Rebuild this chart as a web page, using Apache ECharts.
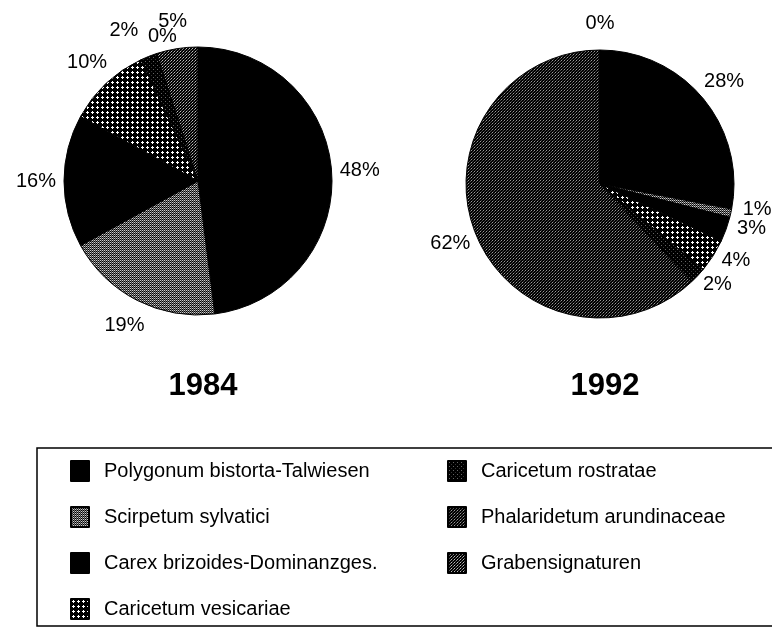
<!DOCTYPE html>
<html>
<head>
<meta charset="utf-8">
<script src="https://cdn.jsdelivr.net/npm/echarts@6/dist/echarts.min.js"></script>
<style>
  html, body { margin: 0; padding: 0; background: #fff; }
  #chart { width: 772px; height: 628px; }
</style>
</head>
<body>
<div id="chart"></div>
<script>
// ---- data ----
const categories = [
  'Polygonum bistorta-Talwiesen',
  'Scirpetum sylvatici',
  'Carex brizoides-Dominanzges.',
  'Caricetum vesicariae',
  'Caricetum rostratae',
  'Phalaridetum arundinaceae',
  'Grabensignaturen'
];
const years = ['1984', '1992'];
const values1984 = [48, 19, 16, 10, 2, 0, 5];
const values1992 = [28, 1, 3, 4, 2, 62, 0];

// ---- patterns (styles) ----
function makePattern(w, h, bg, dots) {
  const c = document.createElement('canvas');
  c.width = w; c.height = h;
  const ctx = c.getContext('2d');
  ctx.fillStyle = bg; ctx.fillRect(0, 0, w, h);
  dots.forEach(function (d) { ctx.fillStyle = d[2]; ctx.fillRect(d[0], d[1], 1, 1); });
  return { image: c, repeat: 'repeat' };
}
const plusDots = [];
[[2,1],[1,2],[2,2],[3,2],[2,3]].forEach(function (p) { plusDots.push([p[0], p[1], '#fff']); });
const fills = [
  '#000',
  makePattern(2, 2, '#000', [[0,0,'#ccc'],[1,1,'#777'],[1,0,'#333']]),
  '#000',
  makePattern(5, 5, '#000', plusDots),
  makePattern(4, 4, '#000', [[1,1,'#666'],[3,3,'#333']]),
  makePattern(3, 3, '#000', [[0,0,'#999'],[2,1,'#555'],[1,2,'#444']]),
  makePattern(3, 3, '#000', [[0,0,'#bbb'],[2,1,'#888'],[1,2,'#555']])
];
const centers = [[198, 181], [600, 184]];
const labelRing = [[142, 176], [140, 176]];
// label text alignment tweaks (style only) per year, by category index
const labelTweaks = [
  { 4: { align: 'right' }, 5: { align: 'left', verticalAlign: 'top' } },
  { 1: { verticalAlign: 'bottom' }, 2: { verticalAlign: 'bottom' }, 3: { verticalAlign: 'bottom' }, 4: { verticalAlign: 'bottom' } }
];
const FONT = '"Liberation Sans", Arial, Helvetica, sans-serif';

const chart = echarts.init(document.getElementById('chart'), null, { renderer: 'canvas' });

const pieSeries = [];
const labelSeries = [];
[values1984, values1992].forEach(function (vals, si) {
  pieSeries.push({
    type: 'pie',
    name: years[si],
    center: centers[si],
    radius: 134,
    startAngle: 90,
    clockwise: true,
    label: { show: false },
    labelLine: { show: false },
    emphasis: { disabled: true },
    animation: false,
    data: vals.map(function (v, i) {
      return { name: categories[i], value: v, itemStyle: { color: fills[i], borderColor: '#000', borderWidth: 1 } };
    })
  });
  labelSeries.push({
    type: 'pie',
    name: years[si] + ' labels',
    center: centers[si],
    radius: labelRing[si],
    startAngle: 90,
    clockwise: true,
    silent: true,
    emphasis: { disabled: true },
    animation: false,
    avoidLabelOverlap: false,
    labelLayout: function (params) {
      const t = labelTweaks[si][params.dataIndex] || {};
      const out = { hideOverlap: false };
      if (t.align) out.align = t.align;
      if (t.verticalAlign) out.verticalAlign = t.verticalAlign;
      return out;
    },
    itemStyle: { color: 'rgba(0,0,0,0)', borderWidth: 0 },
    labelLine: { show: false },
    label: {
      show: true, position: 'inside', formatter: '{c}%',
      color: '#000', fontSize: 20, fontFamily: FONT
    },
    data: vals.map(function (v, i) { return { name: categories[i], value: v }; })
  });
});

const legendText = { fontSize: 20, fontFamily: FONT, color: '#000', padding: [0, 0, 0, 10] };
chart.setOption({
  backgroundColor: '#fff',
  animation: false,
  title: years.map(function (y, i) {
    return {
      text: y, left: centers[i][0], top: 366, textAlign: 'center',
      textStyle: { fontSize: 31, fontWeight: 'bold', fontFamily: FONT, color: '#000' }
    };
  }),
  legend: [
    { orient: 'vertical', left: 65, top: 455, itemWidth: 18, itemHeight: 20, itemGap: 24,
      icon: 'rect', selectedMode: false, data: categories.slice(0, 4), textStyle: legendText },
    { orient: 'vertical', left: 442, top: 455, itemWidth: 18, itemHeight: 20, itemGap: 24,
      icon: 'rect', selectedMode: false, data: categories.slice(4), textStyle: legendText }
  ],
  graphic: [{
    type: 'rect', silent: true,
    shape: { x: 37, y: 448, width: 800, height: 178 },
    style: { fill: 'none', stroke: '#000', lineWidth: 1.5 }
  }],
  series: pieSeries.concat(labelSeries)
});
</script>
</body>
</html>
